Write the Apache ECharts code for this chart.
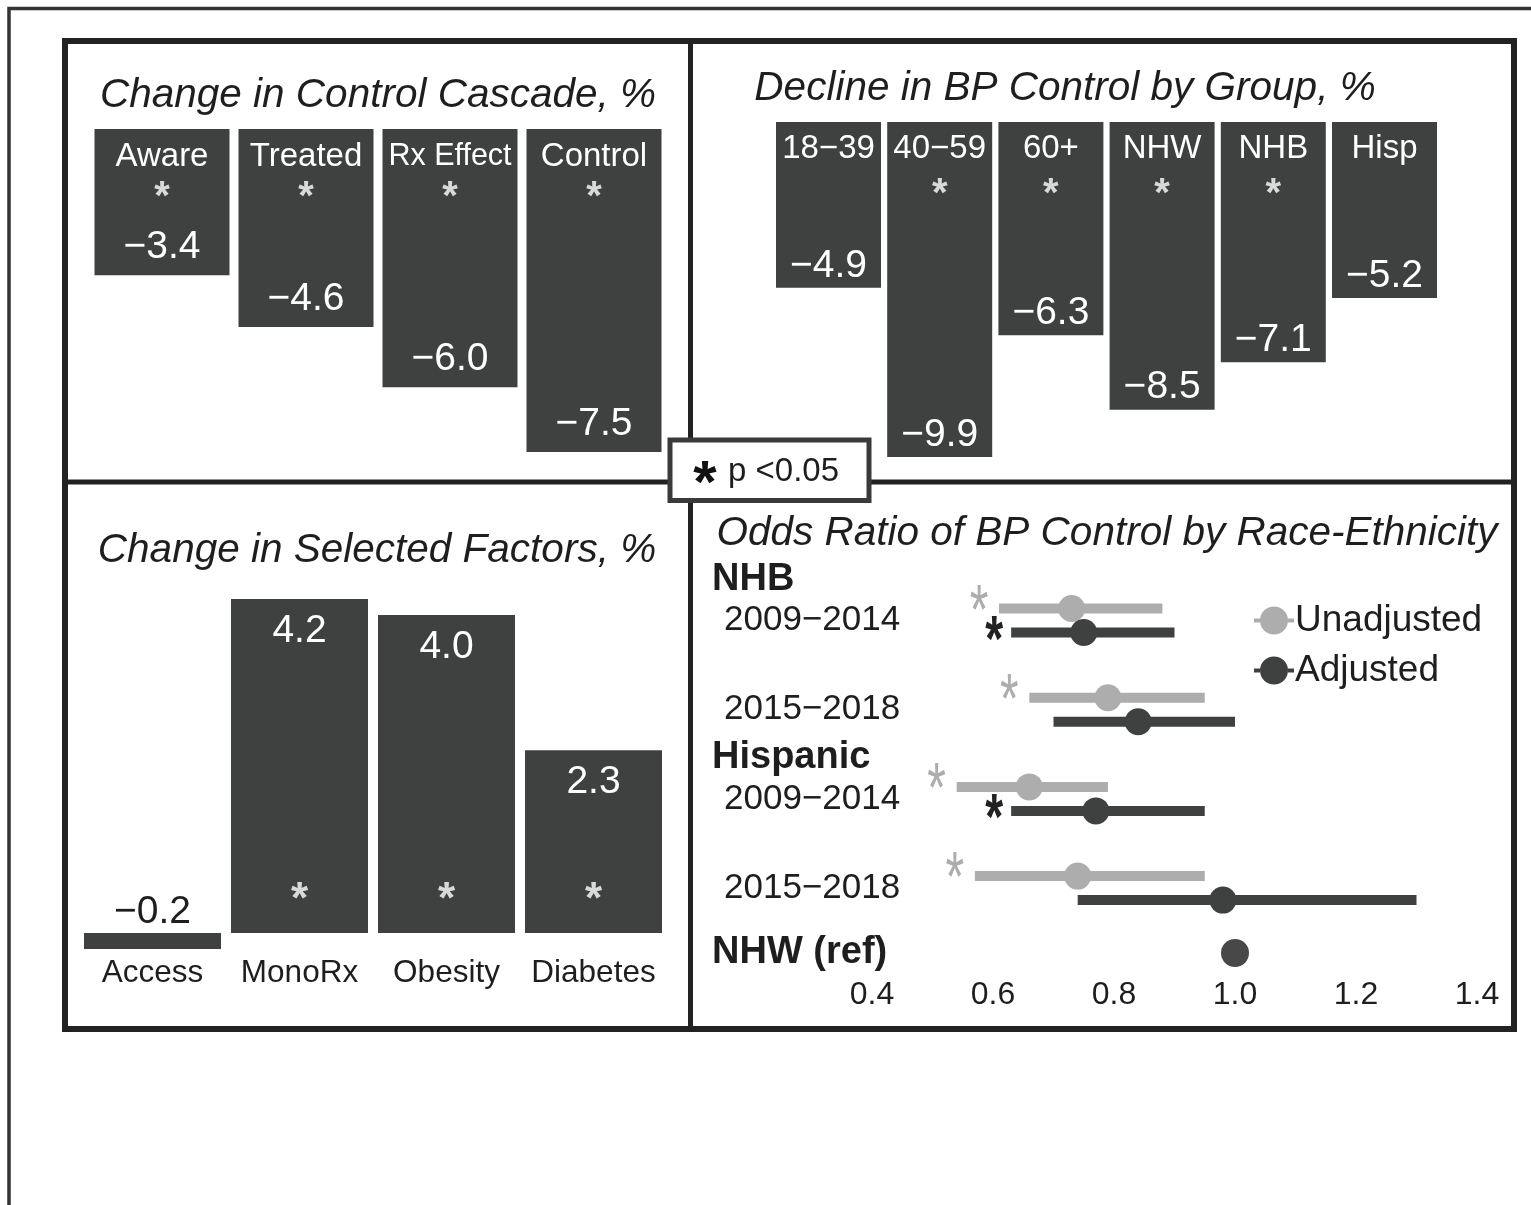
<!DOCTYPE html>
<html><head><meta charset="utf-8">
<script src="https://cdn.jsdelivr.net/npm/echarts@6/dist/echarts.min.js"></script>
<style>html,body{margin:0;padding:0;background:#fff}#c{width:1531px;height:1205px}</style>
</head><body><div id="c"></div>
<script>
// ---- Panel A: Change in Control Cascade, %
const cascadeCats = ['Aware', 'Treated', 'Rx Effect', 'Control'];
const cascadeVals = [-3.4, -4.6, -6.0, -7.5];
const cascadeSig = [true, true, true, true];
// ---- Panel B: Decline in BP Control by Group, %
const groupCats = ['18−39', '40−59', '60+', 'NHW', 'NHB', 'Hisp'];
const groupVals = [-4.9, -9.9, -6.3, -8.5, -7.1, -5.2];
const groupSig = [false, true, true, true, true, false];
// ---- Panel C: Change in Selected Factors, %
const factorCats = ['Access', 'MonoRx', 'Obesity', 'Diabetes'];
const factorVals = [-0.2, 4.2, 4.0, 2.3];
const factorSig = [false, true, true, true];
// ---- Panel D: Odds Ratio of BP Control by Race-Ethnicity
const orGroups = ['NHB', 'NHB', 'Hispanic', 'Hispanic', 'NHW (ref)'];
const orPeriods = ['2009−2014', '2015−2018', '2009−2014', '2015−2018', ''];
const unadjEst = [0.73, 0.79, 0.66, 0.74, null];
const unadjLo  = [0.61, 0.66, 0.54, 0.57, null];
const unadjHi  = [0.88, 0.95, 0.79, 0.95, null];
const unadjSig = [true, true, true, true, false];
const adjEst = [0.75, 0.84, 0.77, 0.98, null];
const adjLo  = [0.63, 0.70, 0.63, 0.74, null];
const adjHi  = [0.90, 1.00, 0.95, 1.30, null];
const adjSig = [true, false, true, false, false];
const refEst = [null, null, null, null, 1.0];
const orTicks = [0.4, 0.6, 0.8, 1.0, 1.2, 1.4];
const titles = ['Change in Control Cascade, %', 'Decline in BP Control by Group, %',
                'Change in Selected Factors, %', 'Odds Ratio of BP Control by Race-Ethnicity'];
const legendNames = ['Unadjusted', 'Adjusted'];
const pText = 'p <0.05';

const FONT = '"Liberation Sans", Arial, Helvetica, sans-serif';
const BAR = '#3f4140';
const INK = '#1e1e1e';
const LIGHT = '#adadad';
const fmt = v => (v < 0 ? '−' : '') + Math.abs(v).toFixed(1);

// rows compared with the reference group vs. the reference group itself
const mainIdx = orPeriods.map((p, i) => p ? i : -1).filter(i => i >= 0);
const refIdx = orPeriods.map((p, i) => p ? -1 : i).filter(i => i >= 0);

const chart = echarts.init(document.getElementById('c'), null, {renderer: 'canvas'});

function starSeries(grid, cats, sig, offsetY, size) {
  return {
    type: 'scatter', xAxisIndex: grid, yAxisIndex: grid, silent: true, z: 5,
    symbolSize: 1, itemStyle: {color: 'rgba(0,0,0,0)'},
    data: cats.map((c, i) => sig[i] ? [c, 0] : null).filter(d => d),
    label: {show: true, position: 'inside', formatter: '*', color: '#fff',
      fontFamily: FONT, fontWeight: 'bold', fontSize: size, offset: [0, offsetY]}
  };
}

function forest(name, est, lo, hi, sig, color, starColor, dy, starDx, starDy, starBold, fs, sy) {
  const data = [];
  mainIdx.forEach((i, k) => { if (est[i] != null) data.push([k, est[i], lo[i], hi[i], sig[i] ? 1 : 0]); });
  return {
    type: 'custom', name: name, xAxisIndex: 3, yAxisIndex: 3, silent: true,
    itemStyle: {color: color},
    encode: {x: [1, 2, 3], y: 0},
    data: data,
    renderItem: (params, api) => {
      const cat = api.value(0);
      const pE = api.coord([api.value(1), cat]);
      const pL = api.coord([api.value(2), cat]);
      const pH = api.coord([api.value(3), cat]);
      const y = pE[1] + dy;
      const ch = [
        {type: 'rect', shape: {x: pL[0], y: y - 5, width: pH[0] - pL[0], height: 10}, style: {fill: color}},
        {type: 'circle', shape: {cx: pE[0], cy: y, r: 13.5}, style: {fill: color}}
      ];
      if (api.value(4)) {
        ch.push({type: 'text', x: pL[0] + starDx, y: y + starDy + 0.23 * fs * sy, scaleY: sy,
          style: {text: '*', fill: starColor, fontFamily: FONT, fontSize: fs,
            fontWeight: starBold ? 'bold' : 'normal', align: 'center', verticalAlign: 'middle'}});
      }
      return {type: 'group', children: ch};
    }
  };
}

const hideY = (g, min, max) => ({type: 'value', gridIndex: g, min: min, max: max, show: false});
const topCatAxis = (g, cats, margin) => ({
  type: 'category', gridIndex: g, data: cats, position: 'top', z: 10,
  axisLine: {show: false, onZero: false}, axisTick: {show: false},
  axisLabel: {inside: true, interval: 0, margin: margin,
    formatter: v => (v.length > 7 ? '{n|' : '{c|') + v + '}',
    rich: {
      c: {fontFamily: FONT, fontSize: 33, color: '#fff', lineHeight: 36},
      n: {fontFamily: FONT, fontSize: 30.5, color: '#fff', lineHeight: 36}
    }}
});
const orRich = {
  h: {fontFamily: FONT, fontSize: 38, fontWeight: 'bold', color: INK, lineHeight: 41},
  p: {fontFamily: FONT, fontSize: 35, color: INK, lineHeight: 41, padding: [0, 0, 0, 12]},
  e: {fontSize: 10, lineHeight: 41}
};
const orX = (g, showLabels) => ({type: 'value', gridIndex: g, min: orTicks[0], max: orTicks[orTicks.length - 1],
  interval: 0.2, axisLine: {show: false}, axisTick: {show: false}, splitLine: {show: false},
  axisLabel: {show: showLabels, margin: 6, fontFamily: FONT, fontSize: 32, color: INK, lineHeight: 32,
    formatter: v => v.toFixed(1)}});

const option = {
  animation: false,
  backgroundColor: '#fff',
  grid: [
    {left: 90, top: 129, width: 576, height: 344.4},
    {left: 772.9, top: 122, width: 667.2, height: 355.4},
    {left: 79, top: 575.25, width: 588, height: 381.6},
    {left: 872, top: 620.5, width: 605, height: 267.6},
    {left: 872, top: 933, width: 605, height: 40}
  ],
  xAxis: [
    topCatAxis(0, cascadeCats, 10),
    topCatAxis(1, groupCats, 9),
    {type: 'category', gridIndex: 2, data: factorCats, position: 'bottom',
      axisLine: {show: false, onZero: false}, axisTick: {show: false},
      axisLabel: {interval: 0, margin: 0, fontFamily: FONT, fontSize: 31.5, color: INK, lineHeight: 32}},
    orX(3, false),
    orX(4, true)
  ],
  yAxis: [
    hideY(0, -8, 0),
    hideY(1, -10.5, 0),
    hideY(2, -0.3, 4.5),
    {type: 'category', gridIndex: 3, inverse: true, boundaryGap: false,
      data: mainIdx.map(i => orGroups[i] + ' ' + orPeriods[i]),
      axisLine: {show: false}, axisTick: {show: false}, splitLine: {show: false},
      axisLabel: {interval: 0, align: 'left', margin: 160, rich: orRich,
        formatter: (v, k) => {
          const i = mainIdx[k], g = orGroups[i], p = orPeriods[i];
          const first = k === 0 || orGroups[mainIdx[k - 1]] !== g;
          if (first) return '{h|' + g + '}\n{p|' + p + '}\n{e| }';
          return '{p|' + p + '}';
        }}},
    {type: 'category', gridIndex: 4, data: refIdx.map(i => orGroups[i]),
      axisLine: {show: false}, axisTick: {show: false}, splitLine: {show: false},
      axisLabel: {interval: 0, align: 'left', margin: 160, rich: orRich,
        formatter: v => '{h|' + v + '}'}}
  ],
  legend: {
    data: legendNames, orient: 'vertical', left: 1254, top: 602, padding: 0,
    itemWidth: 40, itemHeight: 28, itemGap: 13, selectedMode: false,
    icon: 'path://M0,12H6V16H0Z M34,12H40V16H34Z M6,14A14,14 0 1,1 34,14A14,14 0 1,1 6,14Z',
    textStyle: {fontFamily: FONT, fontSize: 37, color: INK, padding: [0, 0, 0, -4]}
  },
  series: [
    {type: 'bar', xAxisIndex: 0, yAxisIndex: 0, data: cascadeVals, barWidth: 135, silent: true,
      itemStyle: {color: BAR},
      label: {show: true, position: 'insideBottom', distance: 8, formatter: p => fmt(p.value),
        fontFamily: FONT, fontSize: 39, lineHeight: 40, color: '#fff'}},
    starSeries(0, cascadeCats, cascadeSig, 69, 40),
    {type: 'bar', xAxisIndex: 1, yAxisIndex: 1, data: groupVals, barWidth: 105, silent: true,
      itemStyle: {color: BAR},
      label: {show: true, position: 'insideBottom', distance: 2, formatter: p => fmt(p.value),
        fontFamily: FONT, fontSize: 39, lineHeight: 40, color: '#fff'}},
    starSeries(1, groupCats, groupSig, 73, 40),
    {type: 'bar', xAxisIndex: 2, yAxisIndex: 2, barWidth: 137, silent: true,
      itemStyle: {color: BAR},
      data: factorVals.map(v => ({value: v, label: v < 0
        ? {position: 'top', distance: 1, color: INK}
        : {position: 'insideTop', distance: 12, color: '#fff'}})),
      label: {show: true, formatter: p => fmt(p.value),
        fontFamily: FONT, fontSize: 39, lineHeight: 40}},
    starSeries(2, factorCats, factorSig, -32, 44),
    forest(legendNames[0], unadjEst, unadjLo, unadjHi, unadjSig, LIGHT, LIGHT, -12, -20, -10, false, 48, 1.45),
    forest(legendNames[1], adjEst, adjLo, adjHi, adjSig, BAR, '#222', 12, -17, -4, true, 46, 1.4),
    {type: 'scatter', xAxisIndex: 4, yAxisIndex: 4, silent: true, symbolSize: 28,
      itemStyle: {color: '#1a1a1a'},
      data: refIdx.map(i => [refEst[i], orGroups[i]])}
  ],
  graphic: [
    {type: 'polyline', z: 50, shape: {points: [[9, 1205], [9, 8.5], [1531, 8.5]]},
      style: {stroke: '#333', lineWidth: 3.5, fill: null}},
    {type: 'rect', z: 50, shape: {x: 65, y: 41, width: 1449, height: 988},
      style: {stroke: '#222', lineWidth: 6, fill: null}},
    {type: 'line', z: 50, shape: {x1: 690.5, y1: 41, x2: 690.5, y2: 1029}, style: {stroke: '#222', lineWidth: 5}},
    {type: 'line', z: 50, shape: {x1: 65, y1: 482, x2: 1514, y2: 482}, style: {stroke: '#222', lineWidth: 5}},
    {type: 'rect', z: 60, shape: {x: 670, y: 440, width: 199, height: 60.5},
      style: {stroke: '#3a3a3a', lineWidth: 5, fill: '#fff'}},
    {type: 'text', z: 61, x: 705, y: 471 + 14, style: {text: '*', fontFamily: FONT, fontWeight: 'bold',
      fontSize: 60, fill: '#111', align: 'center', verticalAlign: 'middle'}},
    {type: 'text', z: 61, x: 728, y: 472, style: {text: pText, fontFamily: FONT,
      fontSize: 33, fill: INK, align: 'left', verticalAlign: 'middle'}},
    {type: 'text', z: 61, x: 378, y: 96, style: {text: titles[0], fontFamily: FONT, fontStyle: 'italic',
      fontSize: 40.5, fill: INK, align: 'center', verticalAlign: 'middle'}},
    {type: 'text', z: 61, x: 1065, y: 89, style: {text: titles[1], fontFamily: FONT, fontStyle: 'italic',
      fontSize: 40.5, fill: INK, align: 'center', verticalAlign: 'middle'}},
    {type: 'text', z: 61, x: 377, y: 551, style: {text: titles[2], fontFamily: FONT, fontStyle: 'italic',
      fontSize: 40.5, fill: INK, align: 'center', verticalAlign: 'middle'}},
    {type: 'text', z: 61, x: 1107, y: 534, style: {text: titles[3], fontFamily: FONT, fontStyle: 'italic',
      fontSize: 40.5, fill: INK, align: 'center', verticalAlign: 'middle'}}
  ]
};
chart.setOption(option);
</script>
</body></html>
